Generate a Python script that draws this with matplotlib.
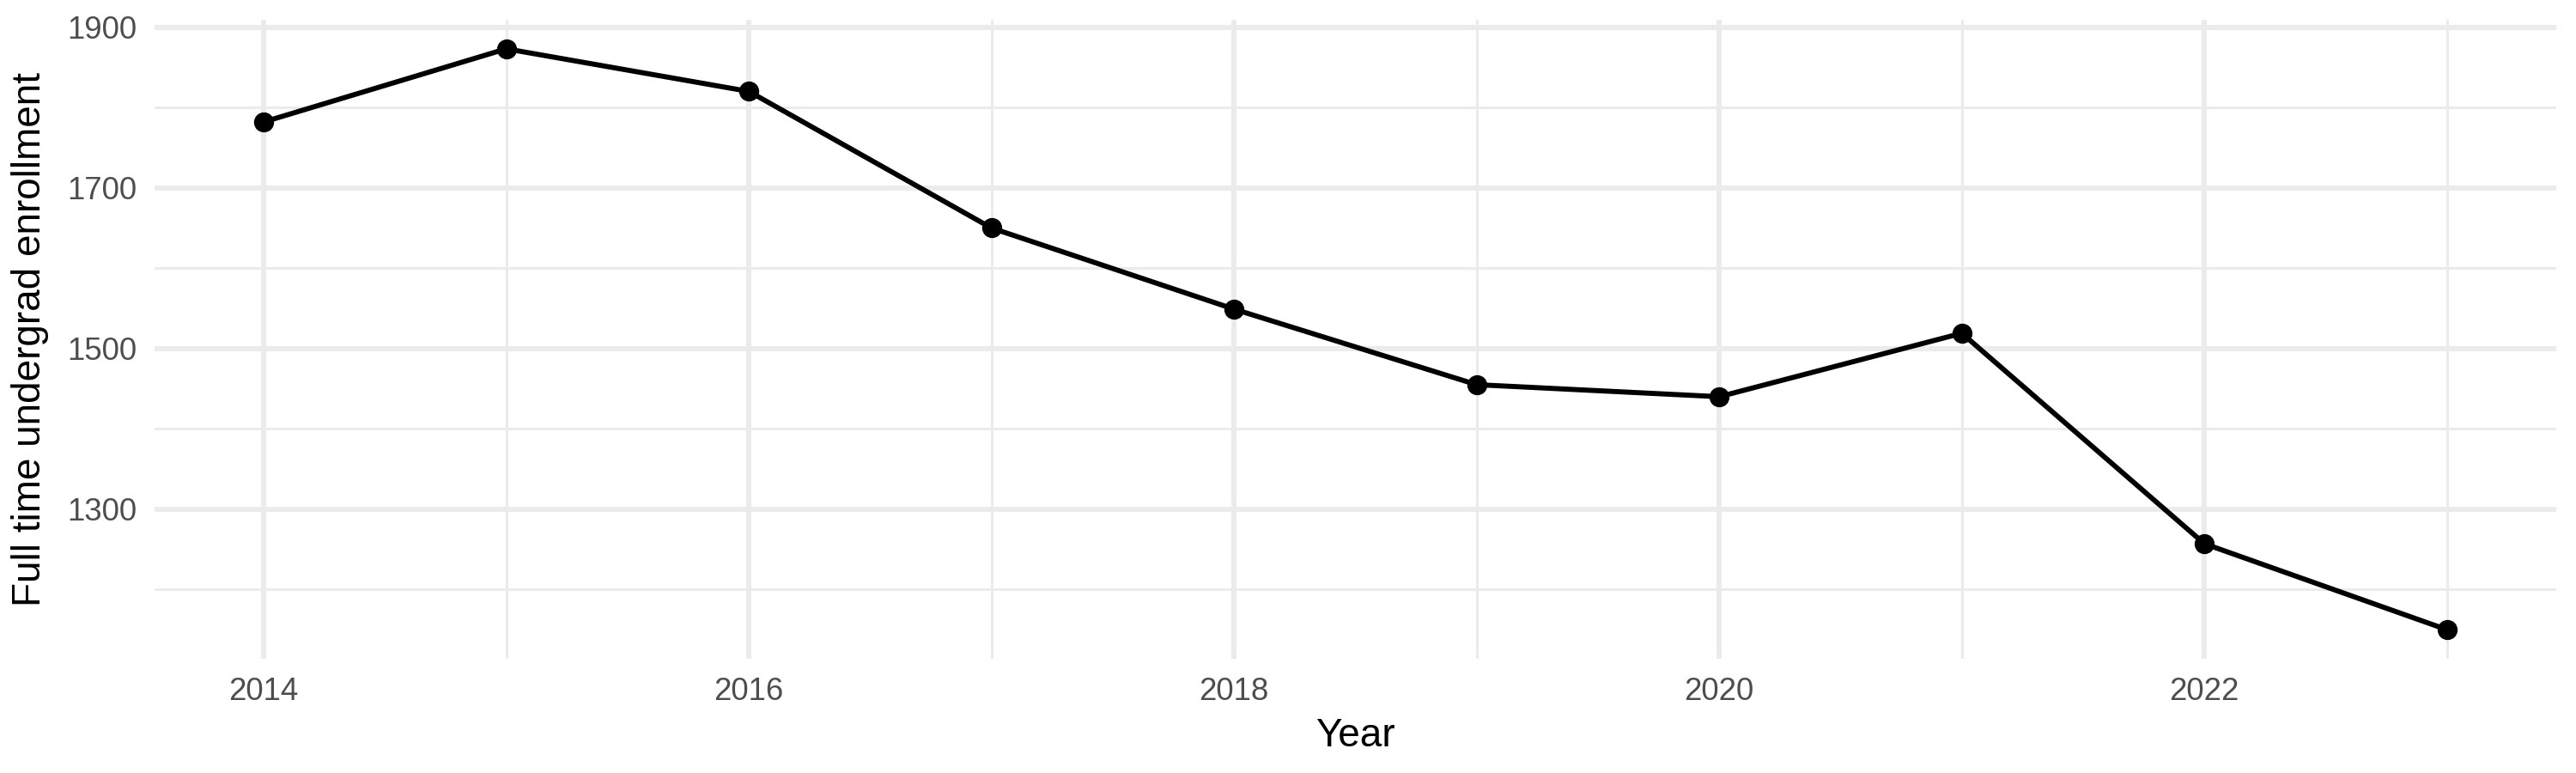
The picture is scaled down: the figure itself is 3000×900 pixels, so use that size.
import matplotlib
matplotlib.use("Agg")
import matplotlib.pyplot as plt
from matplotlib.ticker import FixedLocator

plt.rcParams['font.family'] = ['Liberation Sans', 'DejaVu Sans']

years = [2014, 2015, 2016, 2017, 2018, 2019, 2020, 2021, 2022, 2023]
enrollment = [1782, 1873, 1820, 1650, 1549, 1455, 1440, 1519, 1257, 1150]

x_major = [2014, 2016, 2018, 2020, 2022]
x_minor = [2015, 2017, 2019, 2021, 2023]
y_major = [1300, 1500, 1700, 1900]
y_minor = [1200, 1400, 1600, 1800]

fig = plt.figure(figsize=(10, 3), dpi=300)
ax = fig.add_axes([0.06, 0.1478, 0.9323, 0.8266])

ax.plot(years, enrollment, color='black', linewidth=1.42, zorder=3)
ax.plot(years, enrollment, 'o', color='black', markersize=4.6, zorder=4)

# ggplot-style 5% expansion
span = max(years) - min(years)
ax.set_xlim(min(years) - 0.05 * span, max(years) + 0.05 * span)
yspan = max(enrollment) - min(enrollment)
ax.set_ylim(min(enrollment) - 0.05 * yspan, max(enrollment) + 0.05 * yspan)

ax.xaxis.set_major_locator(FixedLocator(x_major))
ax.xaxis.set_minor_locator(FixedLocator(x_minor))
ax.yaxis.set_major_locator(FixedLocator(y_major))
ax.yaxis.set_minor_locator(FixedLocator(y_minor))

ax.grid(which='major', color='#EBEBEB', linewidth=1.42, zorder=0)
ax.grid(which='minor', color='#EBEBEB', linewidth=0.71, zorder=0)
ax.set_axisbelow(True)

for s in ax.spines.values():
    s.set_visible(False)
ax.tick_params(which='both', length=0)
ax.tick_params(axis='both', labelsize=8.8, labelcolor='#4D4D4D', pad=5)

ax.set_xlabel('Year', fontsize=11, color='black', labelpad=3)
ax.set_ylabel('Full time undergrad enrollment', fontsize=11, color='black', labelpad=5)

fig.savefig('out.png', dpi=300)
